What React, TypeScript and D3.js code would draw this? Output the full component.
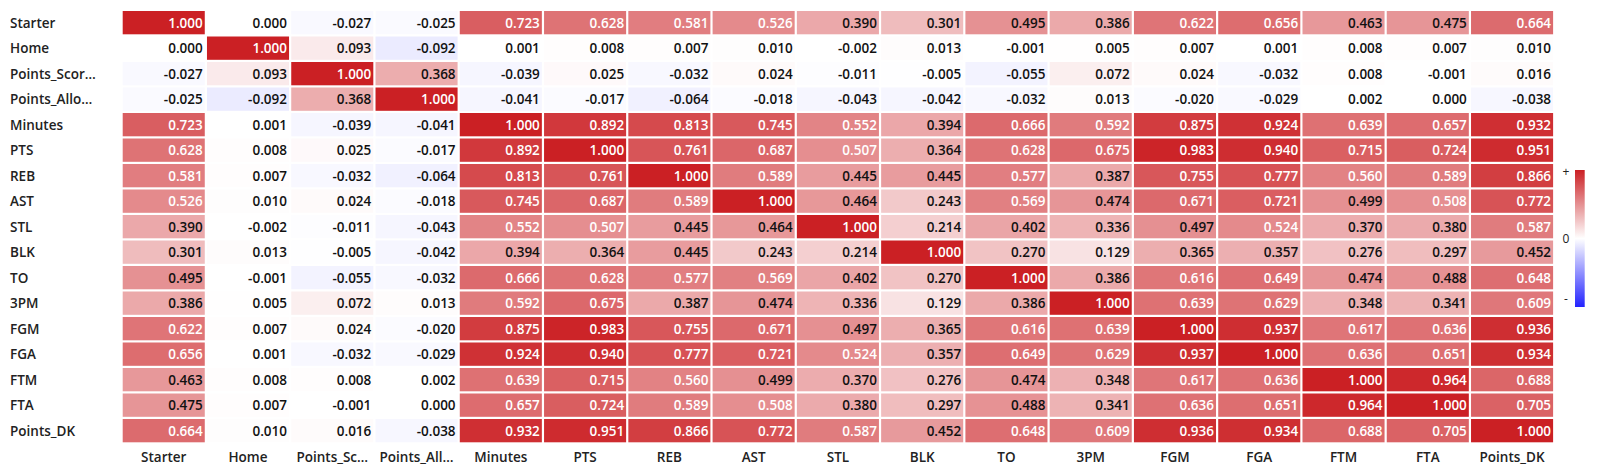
import React from "react";
import * as d3 from "d3";

const labels = ["Starter","Home","Points_Scored","Points_Allowed","Minutes","PTS","REB","AST","STL","BLK","TO","3PM","FGM","FGA","FTM","FTA","Points_DK"];
const rowLabels = ["Starter","Home","Points_Scor…","Points_Allo…","Minutes","PTS","REB","AST","STL","BLK","TO","3PM","FGM","FGA","FTM","FTA","Points_DK"];
const colLabels = ["Starter","Home","Points_Sc…","Points_All…","Minutes","PTS","REB","AST","STL","BLK","TO","3PM","FGM","FGA","FTM","FTA","Points_DK"];

const rowStarter = [1.000, 0.000, -0.027, -0.025, 0.723, 0.628, 0.581, 0.526, 0.390, 0.301, 0.495, 0.386, 0.622, 0.656, 0.463, 0.475, 0.664];
const rowHome = [0.000, 1.000, 0.093, -0.092, 0.001, 0.008, 0.007, 0.010, -0.002, 0.013, -0.001, 0.005, 0.007, 0.001, 0.008, 0.007, 0.010];
const rowPointsScored = [-0.027, 0.093, 1.000, 0.368, -0.039, 0.025, -0.032, 0.024, -0.011, -0.005, -0.055, 0.072, 0.024, -0.032, 0.008, -0.001, 0.016];
const rowPointsAllowed = [-0.025, -0.092, 0.368, 1.000, -0.041, -0.017, -0.064, -0.018, -0.043, -0.042, -0.032, 0.013, -0.020, -0.029, 0.002, 0.000, -0.038];
const rowMinutes = [0.723, 0.001, -0.039, -0.041, 1.000, 0.892, 0.813, 0.745, 0.552, 0.394, 0.666, 0.592, 0.875, 0.924, 0.639, 0.657, 0.932];
const rowPTS = [0.628, 0.008, 0.025, -0.017, 0.892, 1.000, 0.761, 0.687, 0.507, 0.364, 0.628, 0.675, 0.983, 0.940, 0.715, 0.724, 0.951];
const rowREB = [0.581, 0.007, -0.032, -0.064, 0.813, 0.761, 1.000, 0.589, 0.445, 0.445, 0.577, 0.387, 0.755, 0.777, 0.560, 0.589, 0.866];
const rowAST = [0.526, 0.010, 0.024, -0.018, 0.745, 0.687, 0.589, 1.000, 0.464, 0.243, 0.569, 0.474, 0.671, 0.721, 0.499, 0.508, 0.772];
const rowSTL = [0.390, -0.002, -0.011, -0.043, 0.552, 0.507, 0.445, 0.464, 1.000, 0.214, 0.402, 0.336, 0.497, 0.524, 0.370, 0.380, 0.587];
const rowBLK = [0.301, 0.013, -0.005, -0.042, 0.394, 0.364, 0.445, 0.243, 0.214, 1.000, 0.270, 0.129, 0.365, 0.357, 0.276, 0.297, 0.452];
const rowTO = [0.495, -0.001, -0.055, -0.032, 0.666, 0.628, 0.577, 0.569, 0.402, 0.270, 1.000, 0.386, 0.616, 0.649, 0.474, 0.488, 0.648];
const row3PM = [0.386, 0.005, 0.072, 0.013, 0.592, 0.675, 0.387, 0.474, 0.336, 0.129, 0.386, 1.000, 0.639, 0.629, 0.348, 0.341, 0.609];
const rowFGM = [0.622, 0.007, 0.024, -0.020, 0.875, 0.983, 0.755, 0.671, 0.497, 0.365, 0.616, 0.639, 1.000, 0.937, 0.617, 0.636, 0.936];
const rowFGA = [0.656, 0.001, -0.032, -0.029, 0.924, 0.940, 0.777, 0.721, 0.524, 0.357, 0.649, 0.629, 0.937, 1.000, 0.636, 0.651, 0.934];
const rowFTM = [0.463, 0.008, 0.008, 0.002, 0.639, 0.715, 0.560, 0.499, 0.370, 0.276, 0.474, 0.348, 0.617, 0.636, 1.000, 0.964, 0.688];
const rowFTA = [0.475, 0.007, -0.001, 0.000, 0.657, 0.724, 0.589, 0.508, 0.380, 0.297, 0.488, 0.341, 0.636, 0.651, 0.964, 1.000, 0.705];
const rowPointsDK = [0.664, 0.010, 0.016, -0.038, 0.932, 0.951, 0.866, 0.772, 0.587, 0.452, 0.648, 0.609, 0.936, 0.934, 0.688, 0.705, 1.000];

const matrix = [rowStarter, rowHome, rowPointsScored, rowPointsAllowed, rowMinutes, rowPTS, rowREB, rowAST, rowSTL, rowBLK, rowTO, row3PM, rowFGM, rowFGA, rowFTM, rowFTA, rowPointsDK];

const W = 1600;
const H = 473;
const FONT = "'Open Sans', 'Noto Sans', sans-serif";
const FS = 13.5;

export default function App() {
  const x = d3.scaleBand<string>().domain(labels).range([122.7, 1555.3]);
  const y = d3.scaleBand<string>().domain(labels).range([11, 444.5]);
  const color = d3
    .scaleLinear<string>()
    .domain([-1, 0, 1])
    .range(["rgb(35,35,255)", "rgb(255,255,255)", "rgb(203,32,36)"])
    .interpolate(d3.interpolateRgb)
    .clamp(true);

  const cw = x.step() - 2.2;
  const ch = y.step() - 2.2;

  const cbX = 1575;
  const cbY0 = 170;
  const cbY1 = 307;
  const cbScale = d3.scaleLinear().domain([1, -1]).range([cbY0, cbY1]);
  const stops = d3.range(-1, 1.0001, 0.1);

  return (
    <svg width={W} height={H} style={{ position: "absolute", left: 0, top: 0, background: "#fff" }} fontFamily={FONT}>
      <defs>
        <linearGradient id="cbgrad" x1="0" y1="1" x2="0" y2="0">
          {stops.map((s, i) => (
            <stop key={i} offset={`${((s + 1) / 2) * 100}%`} stopColor={color(s)} />
          ))}
        </linearGradient>
      </defs>
      <g>
        {matrix.map((row, ri) =>
          row.map((v, ci) => {
            const cx = x(labels[ci])!;
            const cy = y(labels[ri])!;
            return (
              <g key={`${ri}-${ci}`}>
                <rect x={cx} y={cy} width={cw} height={ch} fill={color(v)} />
                <text
                  x={cx + cw - 2}
                  y={cy + ch / 2}
                  dy="0.36em"
                  textAnchor="end"
                  fontSize={FS}
                  fontWeight={600}
                  fill={v > 0.5 ? "#ffffff" : "#111111"}
                >
                  {v.toFixed(3)}
                </text>
              </g>
            );
          })
        )}
      </g>
      <g>
        {rowLabels.map((l, i) => (
          <text
            key={l}
            x={10}
            y={y(labels[i])! + ch / 2}
            dy="0.36em"
            fontSize={FS}
            fontWeight={600}
            fill="#222"
          >
            {l}
          </text>
        ))}
      </g>
      <g>
        {colLabels.map((l, i) => (
          <text
            key={l}
            x={x(labels[i])! + cw / 2}
            y={461.5}
            textAnchor="middle"
            fontSize={FS}
            fontWeight={600}
            fill="#222"
          >
            {l}
          </text>
        ))}
      </g>
      <g>
        <rect x={cbX} y={cbY0} width={9.7} height={cbY1 - cbY0} fill="url(#cbgrad)" />
        <text x={1566} y={cbScale(1) + 6} textAnchor="middle" fontSize={12} fill="#222">+</text>
        <text x={1566} y={cbScale(0)} dy="0.36em" textAnchor="middle" fontSize={12} fill="#222">0</text>
        <text x={1566} y={cbScale(-1) - 8} dy="0.36em" textAnchor="middle" fontSize={12} fill="#222">-</text>
      </g>
    </svg>
  );
}
